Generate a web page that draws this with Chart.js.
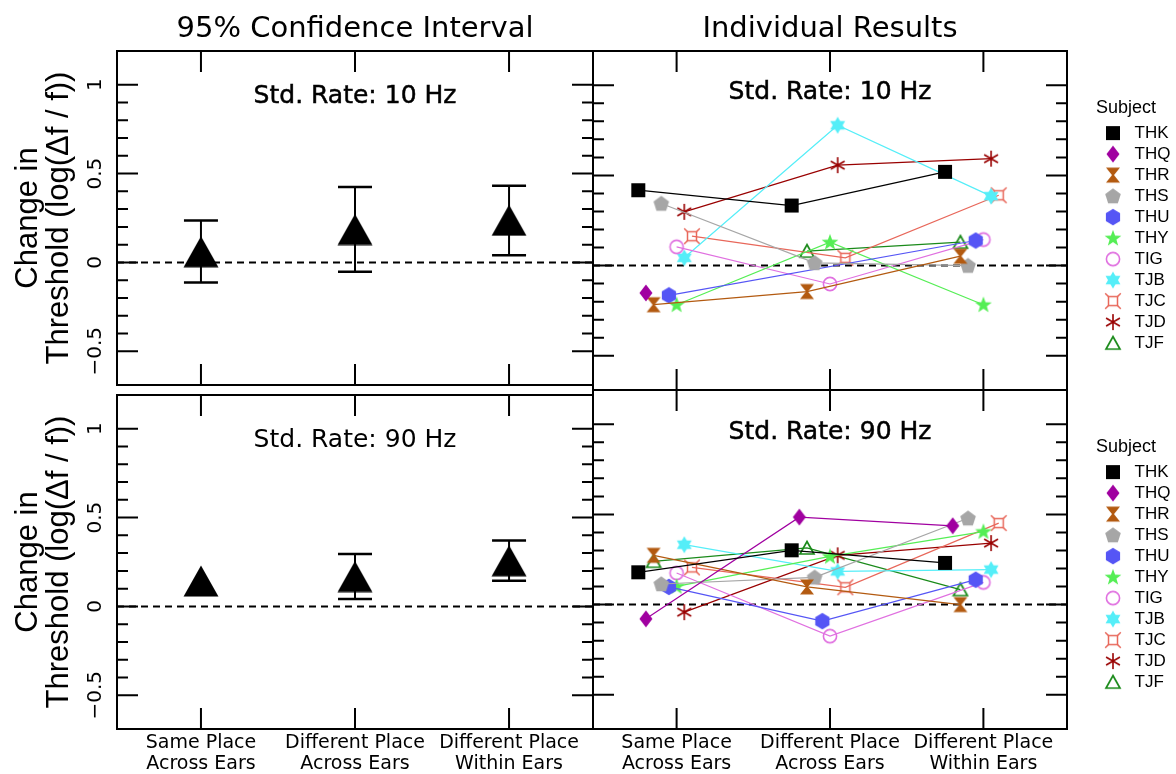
<!DOCTYPE html>
<html>
<head>
<meta charset="utf-8">
<title>Change in threshold by place condition</title>
<script src="https://cdn.jsdelivr.net/npm/chart.js@4.4.1/dist/chart.umd.min.js"></script>
<style>
  html, body { margin: 0; padding: 0; background: #fff; }
  #page { position: relative; width: 1176px; height: 774px; overflow: hidden; background: #fff; }
  #page canvas { position: absolute; }
</style>
</head>
<body>
<div id="page">
  <canvas id="ciTop" style="left:0px;top:0px" width="597" height="394"></canvas>
  <canvas id="ciBottom" style="left:0px;top:386px" width="597" height="388"></canvas>
  <canvas id="indTop" style="left:589px;top:0px" width="587" height="394"></canvas>
  <canvas id="indBottom" style="left:589px;top:386px" width="587" height="388"></canvas>
</div>
<script>
var conditions = [['Same Place', 'Across Ears'], ['Different Place', 'Across Ears'], ['Different Place', 'Within Ears']];
var conditionPos = [1, 2, 3];
var yLabelTicks = [-0.5, 0, 0.5, 1];
var xMin = 0.455, xMax = 3.545;
var yMin = -0.69, yMax = 1.19;

// mean change and 95% CI, std rate 10 Hz
var mean10 = [0.06, 0.185, 0.237];
var low10 = [-0.113, -0.053, 0.041];
var high10 = [0.236, 0.424, 0.432];
// std rate 90 Hz (no interval for the first condition)
var mean90 = [0.143, 0.168, 0.257];
var low90 = [null, 0.042, 0.144];
var high90 = [null, 0.295, 0.371];

var subjects = ['THK', 'THQ', 'THR', 'THS', 'THU', 'THY', 'TIG', 'TJB', 'TJC', 'TJD', 'TJF'];
var subjectColors = ['#000000', '#a000a0', '#b35a10', '#a6a6a6', '#5555f5', '#55ee55',
                     '#e070e0', '#55eef8', '#e8675a', '#990000', '#1a8a1a'];
// horizontal nudge per subject so markers don't sit on top of each other
var subjectShift = [-0.25, -0.2, -0.15, -0.1, -0.05, 0, 0, 0.05, 0.1, 0.05, -0.15];

// one row per subject, one value per condition
var indiv10 = [
  [0.418, 0.333, 0.52],    // THK
  [-0.152, null, null],    // THQ
  [-0.217, -0.144, 0.052], // THR
  [0.344, 0.015, 0.0],     // THS
  [-0.165, null, 0.139],   // THU
  [-0.217, 0.13, -0.217],  // THY
  [0.104, -0.102, 0.144],  // TIG
  [0.043, 0.778, 0.385],   // TJB
  [0.163, 0.043, 0.39],    // TJC
  [0.298, 0.557, 0.593],   // TJD
  [null, 0.08, 0.13]       // TJF
];
var indiv90 = [
  [0.179, 0.301, 0.231],   // THK
  [-0.079, 0.485, 0.437],  // THQ
  [0.273, 0.098, 0.0],     // THR
  [0.114, 0.151, 0.479],   // THS
  [0.098, -0.092, 0.138],  // THU
  [0.101, 0.267, 0.405],   // THY
  [0.175, -0.175, 0.123],  // TIG
  [0.332, 0.184, 0.194],   // TJB
  [0.206, 0.096, 0.452],   // TJC
  [-0.042, 0.273, 0.341],  // TJD
  [0.24, 0.314, 0.083]     // TJF
];

Chart.defaults.font.family = '"DejaVu Sans", sans-serif';
Chart.defaults.color = '#000';

// ---- point symbols drawn into small canvases ----
function makeSymbol(w, h, paint, color) {
  var c = document.createElement('canvas');
  c.width = w; c.height = h;
  var g = c.getContext('2d');
  g.fillStyle = color; g.strokeStyle = color;
  g.lineJoin = 'miter';
  paint(g, w / 2, h / 2);
  return c;
}
function polygon(g, cx, cy, r, n, start) {
  g.beginPath();
  for (var i = 0; i < n; i++) {
    var a = start + i * 2 * Math.PI / n;
    g.lineTo(cx + r * Math.cos(a), cy + r * Math.sin(a));
  }
  g.closePath();
}
function starPath(g, cx, cy, ro, ri, n) {
  g.beginPath();
  for (var i = 0; i < 2 * n; i++) {
    var r = i % 2 ? ri : ro;
    var a = -Math.PI / 2 + i * Math.PI / n;
    g.lineTo(cx + r * Math.cos(a), cy + r * Math.sin(a));
  }
  g.closePath();
}
var painters = [
  function (g, x, y) { g.fillRect(x - 7, y - 7, 14, 14); },
  function (g, x, y) {
    g.beginPath(); g.moveTo(x, y - 8.5); g.lineTo(x + 6.5, y); g.lineTo(x, y + 8.5); g.lineTo(x - 6.5, y);
    g.closePath(); g.fill();
  },
  function (g, x, y) {
    g.beginPath(); g.moveTo(x - 7, y - 7.5); g.lineTo(x + 7, y - 7.5); g.lineTo(x + 1, y);
    g.lineTo(x + 7, y + 7.5); g.lineTo(x - 7, y + 7.5); g.lineTo(x - 1, y); g.closePath(); g.fill();
  },
  function (g, x, y) { polygon(g, x, y + 0.5, 8.2, 5, -Math.PI / 2); g.fill(); },
  function (g, x, y) { polygon(g, x, y, 8.2, 6, -Math.PI / 2); g.fill(); },
  function (g, x, y) { starPath(g, x, y + 0.5, 8.8, 3.6, 5); g.fill(); },
  function (g, x, y) { g.lineWidth = 1.6; g.beginPath(); g.arc(x, y, 6.6, 0, 2 * Math.PI); g.stroke(); },
  function (g, x, y) {
    polygon(g, x, y, 8.6, 3, -Math.PI / 2); g.fill();
    polygon(g, x, y, 8.6, 3, Math.PI / 2); g.fill();
  },
  function (g, x, y) {
    g.lineWidth = 1.5;
    g.strokeRect(x - 4.5, y - 4.5, 9, 9);
    g.beginPath();
    [[-1, -1], [1, -1], [1, 1], [-1, 1]].forEach(function (d) {
      g.moveTo(x + 4.5 * d[0], y + 4.5 * d[1]); g.lineTo(x + 7.8 * d[0], y + 7.8 * d[1]);
    });
    g.stroke();
  },
  function (g, x, y) {
    g.lineWidth = 1.6; g.beginPath();
    [90, 30, 150].forEach(function (deg) {
      var a = deg * Math.PI / 180;
      g.moveTo(x + 8 * Math.cos(a), y + 8 * Math.sin(a)); g.lineTo(x - 8 * Math.cos(a), y - 8 * Math.sin(a));
    });
    g.stroke();
  },
  function (g, x, y) {
    g.lineWidth = 1.7; g.beginPath();
    g.moveTo(x, y - 6.5); g.lineTo(x + 7, y + 6); g.lineTo(x - 7, y + 6); g.closePath(); g.stroke();
  }
];
var subjectSymbols = subjects.map(function (s, i) { return makeSymbol(18, 18, painters[i], subjectColors[i]); });

var meanSymbol = makeSymbol(36, 32, function (g) {
  g.beginPath(); g.moveTo(18, 0.5); g.lineTo(35.5, 31.5); g.lineTo(0.5, 31.5); g.closePath(); g.fill();
}, '#000');

// ---- frame, inside ticks, zero line and panel label ----
var panelFrame = {
  id: 'panelFrame',
  beforeDatasetsDraw: function (chart) {
    var a = chart.chartArea, g = chart.ctx;
    var y0 = chart.scales.y.getPixelForValue(0);
    g.save();
    g.strokeStyle = '#000'; g.lineWidth = 2; g.setLineDash([7, 5]);
    g.beginPath(); g.moveTo(a.left, y0); g.lineTo(a.right, y0); g.stroke();
    g.restore();
  },
  afterDatasetsDraw: function (chart, args, opts) {
    var a = chart.chartArea, g = chart.ctx;
    var xs = chart.scales.x, ys = chart.scales.y;
    g.save();
    g.strokeStyle = '#000'; g.lineWidth = 2; g.setLineDash([]);
    g.strokeRect(a.left, a.top, a.right - a.left, a.bottom - a.top);
    g.beginPath();
    for (var k = -5; k <= 10; k++) {
      var y = ys.getPixelForValue(k / 10);
      var len = k % 5 === 0 ? 21 : 11;
      g.moveTo(a.left, y); g.lineTo(a.left + len, y);
      g.moveTo(a.right, y); g.lineTo(a.right - len, y);
    }
    conditionPos.forEach(function (c) {
      var x = xs.getPixelForValue(c);
      g.moveTo(x, a.top); g.lineTo(x, a.top + 21);
      g.moveTo(x, a.bottom); g.lineTo(x, a.bottom - 21);
    });
    g.stroke();

    g.font = '25px "DejaVu Sans"';
    g.fillStyle = '#000'; g.textAlign = 'center'; g.textBaseline = 'middle';
    var cx = (a.left + a.right) / 2, cy = a.top + opts.labelY;
    g.fillText(opts.label, cx, cy);
    if (opts.heavy) { g.lineWidth = 0.5; g.strokeText(opts.label, cx, cy); }
    g.restore();
  }
};

// keeps the legend column at a fixed width
var legendWidth = {
  id: 'legendWidth',
  afterInit: function (chart, args, opts) {
    var legend = chart.legend;
    if (!legend || !opts.width) return;
    var fit = legend.fit;
    legend.fit = function () { fit.call(this); this.width = opts.width; };
  }
};

function xScale(withLabels) {
  var s = { type: 'linear', min: xMin, max: xMax, display: withLabels };
  if (withLabels) {
    s.afterBuildTicks = function (sc) { sc.ticks = conditionPos.map(function (v) { return { value: v }; }); };
    s.afterFit = function (sc) { sc.height = 45; };
    s.grid = { display: false, drawTicks: false };
    s.border = { display: false };
    s.ticks = {
      autoSkip: false, minRotation: 0, maxRotation: 0, padding: 4, color: '#000',
      font: { family: '"DejaVu Sans"', size: 19, lineHeight: 1.1 },
      callback: function (v, i) { return conditions[i]; }
    };
  }
  return s;
}

function chartTitle(text) {
  return {
    display: !!text, text: text, fullSize: false, color: '#000',
    font: { family: '"DejaVu Sans"', size: 29, weight: 'normal', lineHeight: 1.2 },
    padding: { top: 12, bottom: 4.2 }
  };
}

function ciChart(id, mean, low, high, cfg) {
  var datasets = [{
    label: 'Mean',
    data: mean.map(function (v, j) { return { x: conditionPos[j], y: v }; }),
    showLine: false, pointStyle: meanSymbol, pointRadius: 16
  }];
  conditionPos.forEach(function (c, j) {
    if (low[j] === null) return;
    datasets.push({
      label: '95% CI',
      data: [{ x: c, y: low[j] }, { x: c, y: high[j] }],
      borderColor: '#000', borderWidth: 2,
      pointStyle: 'line', pointRadius: 17, pointBorderWidth: 2.5, pointBorderColor: '#000'
    });
  });
  return new Chart(document.getElementById(id), {
    type: 'line',
    data: { datasets: datasets },
    plugins: [panelFrame],
    options: {
      responsive: false, animation: false, devicePixelRatio: 1, events: [],
      layout: { padding: cfg.padding, autoPadding: false },
      scales: {
        x: xScale(cfg.xLabels),
        y: {
          type: 'linear', position: 'left', min: yMin, max: yMax,
          afterBuildTicks: function (sc) { sc.ticks = yLabelTicks.map(function (v) { return { value: v }; }); },
          afterFit: function (sc) { sc.width = 117; },
          grid: { display: false, drawTicks: false },
          border: { display: false },
          ticks: {
            autoSkip: false, minRotation: 90, maxRotation: 90, crossAlign: 'center', padding: -3,
            color: '#000', font: { family: '"DejaVu Sans"', size: 20 },
            callback: function (v) { return v < 0 ? '\u2212' + Math.abs(v) : String(v); }
          },
          title: {
            display: true, color: '#000',
            text: ['Change in', 'Threshold (log(\u0394f / f))'],
            font: { family: '"Liberation Sans"', size: 31, lineHeight: 1.0 },
            padding: { top: 13, bottom: 0 }
          }
        }
      },
      plugins: {
        title: chartTitle(cfg.title),
        legend: { display: false },
        tooltip: { enabled: false },
        panelFrame: { label: cfg.label, labelY: cfg.labelY, heavy: cfg.heavy }
      }
    }
  });
}

function individualChart(id, rows, cfg) {
  var datasets = rows.map(function (vals, i) {
    return {
      label: subjects[i],
      data: vals.map(function (v, j) { return { x: conditionPos[j] + subjectShift[i], y: v }; }),
      borderColor: subjectColors[i], backgroundColor: subjectColors[i],
      borderWidth: 1.2, tension: 0, spanGaps: true,
      pointStyle: subjectSymbols[i], pointRadius: 8
    };
  });
  return new Chart(document.getElementById(id), {
    type: 'line',
    data: { datasets: datasets },
    plugins: [panelFrame, legendWidth],
    options: {
      responsive: false, animation: false, devicePixelRatio: 1, events: [],
      layout: { padding: cfg.padding, autoPadding: false },
      scales: {
        x: xScale(cfg.xLabels),
        y: {
          type: 'linear', position: 'right', min: yMin, max: yMax,
          afterFit: function (sc) { sc.width = 29; },
          ticks: { display: false }, grid: { display: false }, border: { display: false }
        }
      },
      plugins: {
        title: chartTitle(cfg.title),
        tooltip: { enabled: false },
        legend: {
          display: true, position: 'right', align: 'start',
          title: {
            display: true, text: 'Subject', position: 'start', color: '#000',
            font: { family: '"Liberation Sans"', size: 18 },
            padding: cfg.legendTitlePad
          },
          labels: {
            usePointStyle: true, pointStyleWidth: 26, padding: 4, color: '#000',
            font: { family: '"Liberation Sans"', size: 17 }
          }
        },
        legendWidth: { width: 80 },
        panelFrame: { label: cfg.label, labelY: cfg.labelY, heavy: true }
      }
    }
  });
}

ciChart('ciTop', mean10, low10, high10, {
  title: '95% Confidence Interval', label: 'Std. Rate: 10 Hz', labelY: 45, heavy: true,
  padding: { right: 4, bottom: 4 }, xLabels: false
});
ciChart('ciBottom', mean90, low90, high90, {
  title: '', label: 'Std. Rate: 90 Hz', labelY: 45, heavy: false,
  padding: { right: 4, top: 4 }, xLabels: true
});
individualChart('indTop', indiv10, {
  title: 'Individual Results', label: 'Std. Rate: 10 Hz', labelY: 41,
  padding: { left: 4, bottom: 4 }, xLabels: false,
  legendTitlePad: { top: 99, bottom: 0 }
});
individualChart('indBottom', indiv90, {
  title: '', label: 'Std. Rate: 90 Hz', labelY: 42,
  padding: { left: 4, top: 4 }, xLabels: true,
  legendTitlePad: { top: 48, bottom: 0 }
});
</script>
</body>
</html>
